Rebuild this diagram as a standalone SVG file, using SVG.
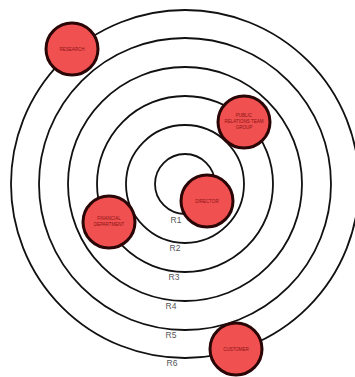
<svg xmlns="http://www.w3.org/2000/svg" width="355" height="377" viewBox="0 0 355 377">
<style>
.ring{fill:none;stroke:#111;stroke-width:1.8}
.lbl{font-family:"Liberation Sans",Arial,sans-serif;font-size:8.5px;fill:#555;text-anchor:middle}
.node circle{fill:#f15050;stroke:#2a0606;stroke-width:3}
.node text{font-family:"Liberation Sans",Arial,sans-serif;font-size:4.5px;fill:#8a1515;text-anchor:middle}
</style>
<rect width="355" height="377" fill="#fff"/>
<g id="connectors">
<circle class="ring" cx="185" cy="184" r="30"/>
<circle class="ring" cx="185" cy="184" r="59"/>
<circle class="ring" cx="185" cy="184" r="88"/>
<circle class="ring" cx="185" cy="184" r="117"/>
<circle class="ring" cx="185" cy="184" r="146"/>
<circle class="ring" cx="185" cy="184" r="174"/>
<text class="lbl" x="176" y="223">R1</text>
<text class="lbl" x="175" y="251">R2</text>
<text class="lbl" x="174" y="280">R3</text>
<text class="lbl" x="171" y="309">R4</text>
<text class="lbl" x="171" y="338">R5</text>
<text class="lbl" x="172" y="366">R6</text>
</g>
<g id="node1" class="node"><circle cx="72" cy="49" r="26"/><text x="72" y="50.5">RESEARCH</text></g>
<g id="node2" class="node"><circle cx="244" cy="122" r="26"/><text x="244" y="117">PUBLIC</text><text x="244" y="123">RELATIONS TEAM</text><text x="244" y="129">GROUP</text></g>
<g id="node3" class="node"><circle cx="207" cy="201" r="26"/><text x="207" y="202.5">DIRECTOR</text></g>
<g id="node4" class="node"><circle cx="109" cy="222" r="26"/><text x="109" y="220">FINANCIAL</text><text x="109" y="226">DEPARTMENT</text></g>
<g id="node5" class="node"><circle cx="236" cy="349" r="26"/><text x="236" y="350.5">CUSTOMER</text></g>
</svg>
